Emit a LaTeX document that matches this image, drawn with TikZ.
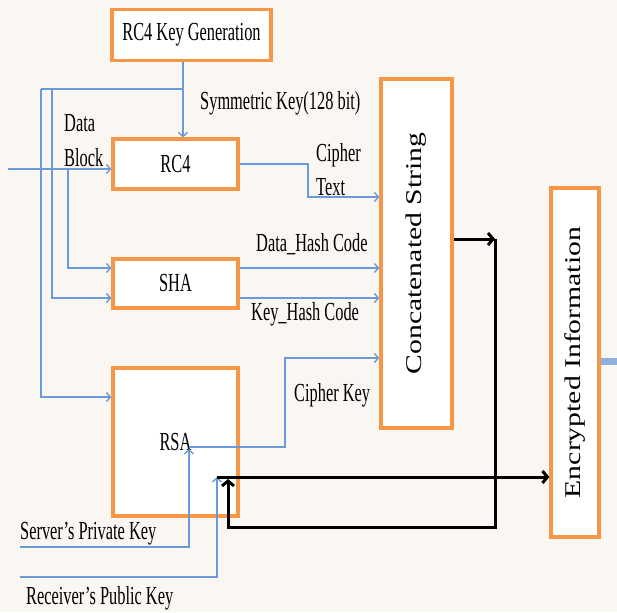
\documentclass[tikz,border=0pt]{standalone}
\usepackage{fontspec}
\setmainfont{Liberation Serif}[FakeStretch=0.63]
\newfontfamily\upfont{Liberation Serif}[FakeStretch=1.32]
\usepackage{xcolor}
\usepackage{tikz}
\usetikzlibrary{arrows.meta}
\definecolor{boxorange}{HTML}{F79646}
\definecolor{lineblue}{HTML}{6A9AD8}
\definecolor{paper}{HTML}{FAF6F1}
\definecolor{barblue}{HTML}{8FB0DC}

\begin{document}
\begin{tikzpicture}[x=1pt,y=-1pt,
    every node/.style={font=\fontsize{26}{30}\selectfont},
    box/.style={draw=boxorange,line width=3.2pt,fill=white,inner sep=0pt},
    lbl/.style={inner sep=0pt,anchor=base west},
    vlbl/.style={inner sep=0pt,rotate=90,font=\upfont\fontsize{22.5}{26}\selectfont},
    bl/.style={lineblue,line width=1.4pt,>={Straight Barb[length=4pt,width=9pt]}},
    bk/.style={black,line width=3pt,>={Straight Barb[length=5pt,width=12pt]}}]
    \fill[paper] (0,0) rectangle (617,612);
    \useasboundingbox (0,0) rectangle (617,612);

    \node[box,minimum width=159pt,minimum height=51pt] (keygen) at (191.5,35) {RC4 Key Generation};
    \node[box,minimum width=125pt,minimum height=50pt] (rc4) at (175.5,164) {RC4};
    \node[box,minimum width=125pt,minimum height=49pt] (sha) at (175.5,283.5) {SHA};
    \node[box,minimum width=125pt,minimum height=148pt] (rsa) at (175.5,442) {RSA};
    \node[box,minimum width=71pt,minimum height=349pt] (concat) at (416.5,253.5) {};
    \node[box,minimum width=48pt,minimum height=349pt] (encr) at (575,362.5) {};
    \node[vlbl] (concattxt) at (concat.center) {Concatenated String};
    \node[vlbl] (encrtxt) at (encr.center) {Encrypted Information};

    \coordinate (ksplit) at (183,89);
    \coordinate (kleft) at (41,89);
    \coordinate (kmid) at (52,89);
    \coordinate (datain) at (8,169);
    \coordinate (dsplit) at (68,169);
    \coordinate (ctbend) at (308,164);
    \coordinate (rsaout) at (189,447);
    \coordinate (ckbend) at (285,447);
    \coordinate (srvkey) at (20,547);
    \coordinate (rcvkey) at (20,577);
    \coordinate (join) at (217,477);
    \coordinate (turn) at (495,239);
    \coordinate (back) at (228,527);
    \coordinate (backtop) at (228,479);
    \coordinate (edge) at (617,361);

    \draw[bl,->] (keygen.south -| ksplit) -- (rc4.north -| ksplit);
    \draw[bl] (ksplit) -- (kleft);
    \draw[bl,->] (kleft) |- (rsa.west |- 0,397);
    \draw[bl,->] (kmid) |- (sha.west |- 0,298);
    \draw[bl,->] (datain) -- (rc4.west |- datain);
    \draw[bl,->] (dsplit) |- (sha.west |- 0,268);
    \draw[bl,->] (rc4.east) -- (ctbend) |- (concat.west |- 0,197);
    \draw[bl,->] (sha.east |- 0,268) -- (concat.west |- 0,268);
    \draw[bl,->] (sha.east |- 0,298) -- (concat.west |- 0,298);
    \draw[bl,->] (rsaout) -- (ckbend) |- (concat.west |- 0,358);
    \draw[bl,->] (srvkey) -| ([yshift=-2pt]rsaout);
    \draw[bl,->] (rcvkey) -| (join);

    \draw[bk,->] (concat.east |- turn) -- (turn);
    \draw[bk,->] (turn) |- (back) -- (backtop);
    \draw[bk,->] (join) -- (encr.west |- join);
    \draw[barblue,line width=7pt] (encr.east |- edge) -- (edge);

    \node[lbl] (symkey) at (200,110) {Symmetric Key(128 bit)};
    \node[lbl] (datatxt) at (64,131.7) {Data};
    \node[lbl] (blocktxt) at (64,166.7) {Block};
    \node[lbl] (ciphtxt) at (316,162) {Cipher};
    \node[lbl] (texttxt) at (316,196) {Text};
    \node[lbl] (dhash) at (256,251) {Data\_Hash Code};
    \node[lbl] (khash) at (251,320) {Key\_Hash Code};
    \node[lbl] (ciphkey) at (294,401) {Cipher Key};
    \node[lbl] (srvtxt) at (20,539) {Server’s Private Key};
    \node[lbl] (rcvtxt) at (26,604) {Receiver’s Public Key};
\end{tikzpicture}
\end{document}
